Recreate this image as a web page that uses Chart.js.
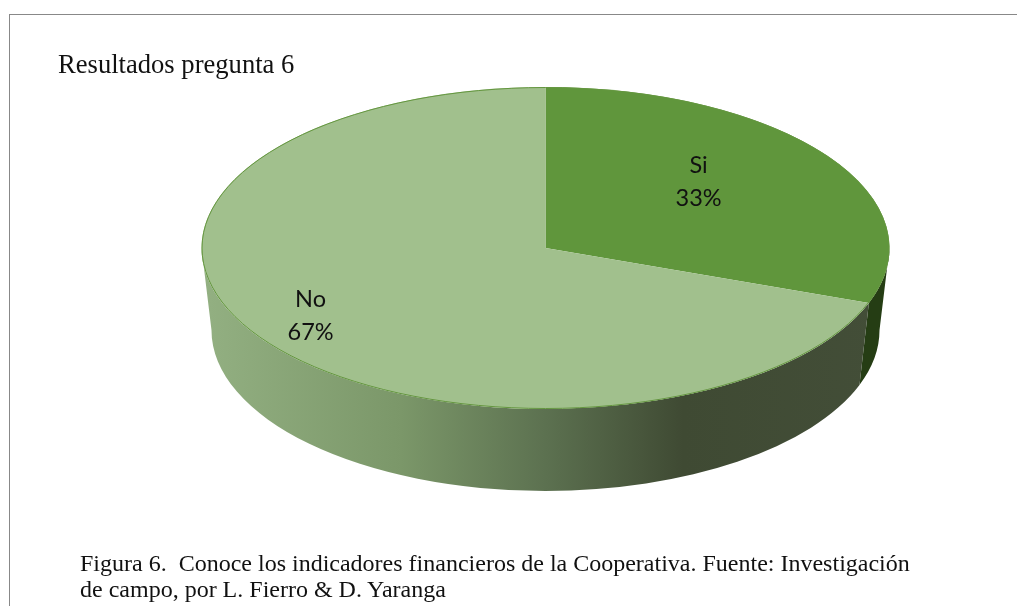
<!DOCTYPE html>
<html>
<head>
<meta charset="utf-8">
<script src="https://cdn.jsdelivr.net/npm/chart.js@4"></script>
<style>
  html, body { margin: 0; padding: 0; background: #fff; overflow: hidden; }
  #wrap { position: relative; width: 1017px; height: 606px; }
  #frame { position: absolute; left: 9px; top: 14px; right: 0; bottom: 0;
           border-top: 1px solid #888; border-left: 1px solid #888; }
  .txt { position: absolute; font-family: "Liberation Serif", serif; color: #111; white-space: pre; }
  #titulo { left: 58px; top: 50px; font-size: 26.6px; line-height: 28px; }
  #pie { left: 80px; top: 550px; font-size: 24px; line-height: 26px; }
  canvas { position: absolute; left: 0; top: 0; }
</style>
</head>
<body>
<div id="wrap">
  <canvas id="chart" width="1017" height="606"></canvas>
  <div id="frame"></div>
  <div class="txt" id="titulo">Resultados pregunta 6</div>
  <div class="txt" id="pie">Figura 6.  Conoce los indicadores financieros de la Cooperativa. Fuente: Investigación
de campo, por L. Fierro &amp; D. Yaranga</div>
</div>
<script>
var categorias = ['Si', 'No'];
var valores = [33, 67];
var coloresTapa = ['#60963c', '#a1c08d'];

// look of the 3d disc
var aplastado = 0.66;       // foreshortening of the slice angles
var estiramientoX = 344 / 161;
var profundidad = 82;
var escalaBase = 0.971;     // the lower rim is a bit smaller (perspective)
// where each label sits, as a fraction of the disc radii
var posEtiquetas = [[0.445, -0.416], [-0.683, 0.42]];

function aplastar(a) {
  var w = Math.atan2(aplastado * Math.sin(a), Math.cos(a));
  return w + 2 * Math.PI * Math.round((a - w) / (2 * Math.PI));
}

function relleno(ctx, i, x0, x1) {
  if (i === 0) return '#253d14';
  var g = ctx.createLinearGradient(x0, 0, x1, 0);
  g.addColorStop(0, '#93b082');
  g.addColorStop(0.29, '#7b9769');
  g.addColorStop(0.5, '#5c7150');
  g.addColorStop(0.7, '#3f4a33');
  g.addColorStop(1, '#434e38');
  return g;
}

var disco3d = {
  id: 'disco3d',
  afterDatasetsUpdate: function(chart) {
    chart.getDatasetMeta(0).data.forEach(function(arc) {
      arc.startAngle = aplastar(arc.startAngle);
      arc.endAngle = aplastar(arc.endAngle);
      arc.circumference = arc.endAngle - arc.startAngle;
    });
  },
  beforeDatasetsDraw: function(chart) {
    var ctx = chart.ctx;
    var arcs = chart.getDatasetMeta(0).data;
    var cx = arcs[0].x, cy = arcs[0].y, ry = arcs[0].outerRadius, rx = ry * estiramientoX;
    var cyBase = cy + profundidad, rxBase = rx * escalaBase, ryBase = ry;

    // side wall, only the front half of the disc shows
    arcs.forEach(function(arc, i) {
      var a = Math.max(arc.startAngle, 0), b = Math.min(arc.endAngle, Math.PI);
      if (b <= a) return;
      ctx.save();
      ctx.beginPath();
      ctx.ellipse(cx, cy, rx, ry, 0, a, b);
      ctx.lineTo(cx + rxBase * Math.cos(b), cyBase + ryBase * Math.sin(b));
      ctx.ellipse(cx, cyBase, rxBase, ryBase, 0, b, a, true);
      ctx.closePath();
      ctx.fillStyle = relleno(ctx, i, cx - rx, cx + rx);
      ctx.fill();
      ctx.restore();
    });

    ctx.save();
    ctx.translate(cx, cy);
    ctx.scale(estiramientoX, 1);
    ctx.translate(-cx, -cy);
  },
  afterDatasetsDraw: function(chart) {
    var ctx = chart.ctx;
    ctx.restore();
    var arcs = chart.getDatasetMeta(0).data;
    var cx = arcs[0].x, cy = arcs[0].y, ry = arcs[0].outerRadius, rx = ry * estiramientoX;

    // thin rim line
    ctx.save();
    ctx.beginPath();
    ctx.ellipse(cx, cy, rx - 0.5, ry - 0.5, 0, 0, 2 * Math.PI);
    ctx.strokeStyle = '#64963f';
    ctx.lineWidth = 1;
    ctx.stroke();

    // labels
    var total = valores.reduce(function(s, v) { return s + v; }, 0);
    ctx.fillStyle = '#111';
    ctx.font = '23.5px Lato, sans-serif';
    ctx.textAlign = 'center';
    ctx.textBaseline = 'middle';
    categorias.forEach(function(cat, i) {
      var x = cx + posEtiquetas[i][0] * rx, y = cy + posEtiquetas[i][1] * ry;
      ctx.fillText(cat, x, y - 16);
      ctx.fillText(Math.round(valores[i] / total * 100) + '%', x, y + 17);
    });
    ctx.restore();
  }
};

new Chart(document.getElementById('chart').getContext('2d'), {
  type: 'pie',
  data: {
    labels: categorias,
    datasets: [{
      data: valores,
      backgroundColor: coloresTapa,
      borderWidth: 0,
      clip: false
    }]
  },
  options: {
    responsive: false,
    animation: false,
    layout: { padding: { left: 202, right: 128, top: 87, bottom: 197 } },
    plugins: { legend: { display: false }, tooltip: { enabled: false } }
  },
  plugins: [disco3d]
});
</script>
</body>
</html>
